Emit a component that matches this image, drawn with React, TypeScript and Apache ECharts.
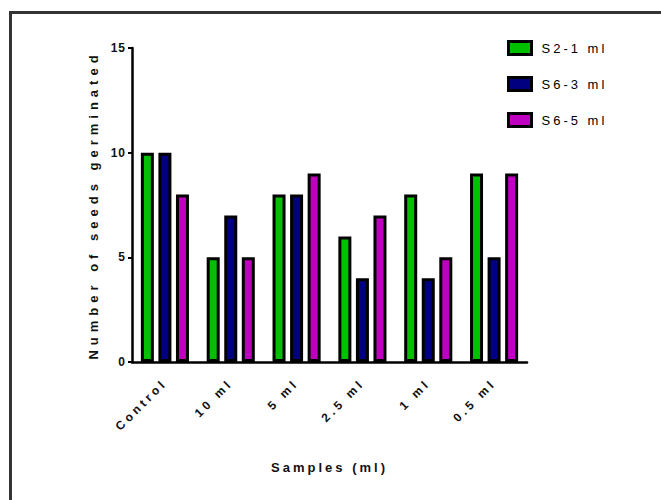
import React, { useEffect, useRef } from "react";
import * as echarts from "echarts";

const categories = ["Control", "10 ml", "5 ml", "2.5 ml", "1 ml", "0.5 ml"];
const seriesNames = ["S2-1 ml", "S6-3 ml", "S6-5 ml"];
const s21 = [10, 5, 8, 6, 8, 9];
const s63 = [10, 7, 8, 4, 4, 5];
const s65 = [8, 5, 9, 7, 5, 9];
const colors = ["#00C000", "#000080", "#C000C0"];
const yTicks = [0, 5, 10, 15];

export default function App() {
  const ref = useRef<HTMLDivElement>(null);
  useEffect(() => {
    if (!ref.current) return;
    const chart = echarts.init(ref.current, undefined, { renderer: "svg" });
    const font = "Liberation Sans, Arial, sans-serif";
    const data = [s21, s63, s65];
    chart.setOption({
      animation: false,
      backgroundColor: "#ffffff",
      textStyle: { fontFamily: font },
      graphic: [
        {
          type: "rect",
          shape: { x: 10.5, y: 12.5, width: 700, height: 600 },
          style: { fill: "none", stroke: "#333333", lineWidth: 3 },
          silent: true,
        },
      ],
      legend: {
        orient: "vertical",
        left: 502,
        top: 35,
        itemWidth: 23,
        itemHeight: 13,
        itemGap: 20,
        icon: "rect",
        textStyle: { fontSize: 13, color: "#000", fontFamily: font, padding: [0, 0, 0, 5] },
        itemStyle: { borderColor: "#000", borderWidth: 3 },
        data: seriesNames,
      },
      grid: { left: 132, right: 134, top: 48, bottom: 138 },
      xAxis: {
        type: "category",
        data: categories,
        name: "Samples (ml)",
        nameLocation: "middle",
        nameGap: 99,
        nameTextStyle: { fontSize: 13, fontWeight: "bold", color: "#111", fontFamily: font },
        axisLine: { lineStyle: { color: "#000", width: 2.5 } },
        axisTick: { alignWithLabel: true, length: 7, lineStyle: { color: "#000", width: 2 } },
        axisLabel: {
          rotate: 45,
          fontSize: 12,
          fontWeight: "bold",
          color: "#111",
          margin: 19,
          fontFamily: font,
        },
      },
      yAxis: {
        type: "value",
        min: 0,
        max: 15,
        interval: 5,
        name: "Number of seeds germinated",
        nameLocation: "middle",
        nameGap: 32,
        nameTextStyle: { fontSize: 13, fontWeight: "bold", color: "#111", fontFamily: font },
        splitLine: { show: false },
        axisLine: { show: true, lineStyle: { color: "#000", width: 2.5 } },
        axisTick: { show: true, length: 4, lineStyle: { color: "#000", width: 2 } },
        axisLabel: {
          fontSize: 12,
          fontWeight: "bold",
          color: "#111",
          margin: 6,
          fontFamily: font,
          formatter: (v: number) => (yTicks.includes(v) ? String(v) : ""),
        },
      },
      series: seriesNames.map((n, i) => ({
        name: n,
        type: "bar",
        data: data[i],
        barWidth: 13,
        barGap: "35%",
        itemStyle: { color: colors[i], borderColor: "#000", borderWidth: 3 },
      })),
    });
    const svg = ref.current.querySelector("svg");
    if (svg) {
      svg.querySelectorAll("text").forEach((t) => {
        const s = t.textContent || "";
        let ls = "1px";
        if (s === "Number of seeds germinated") ls = "5px";
        else if (s === "Samples (ml)") ls = "3px";
        else if (seriesNames.includes(s)) ls = "3px";
        else if (categories.includes(s)) ls = "3.5px";
        (t as SVGTextElement).style.letterSpacing = ls;
      });
    }
    return () => chart.dispose();
  }, []);
  return (
    <div
      ref={ref}
      style={{ position: "absolute", left: 0, top: 0, width: 661, height: 500 }}
    />
  );
}
